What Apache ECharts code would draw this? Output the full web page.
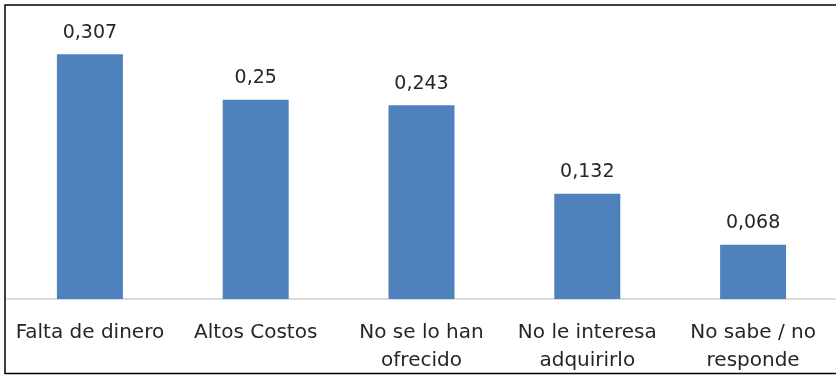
<!DOCTYPE html>
<html>
<head>
<meta charset="utf-8">
<script src="https://cdn.jsdelivr.net/npm/echarts@6/dist/echarts.min.js"></script>
<style>html,body{margin:0;padding:0;background:#fff}#c{width:836px;height:375px}</style>
</head>
<body>
<div id="c"></div>
<script>
const categories = ["Falta de dinero", "Altos Costos", "No se lo han\nofrecido", "No le interesa\nadquirirlo", "No sabe / no\nresponde"];
const values = [0.307, 0.25, 0.243, 0.132, 0.068];

const chart = echarts.init(document.getElementById('c'));
const font = "'DejaVu Sans', sans-serif";
chart.setOption({
  animation: false,
  grid: { left: 7, right: 0, top: 20, bottom: 76 },
  xAxis: {
    type: 'category',
    data: categories,
    axisLine: { lineStyle: { color: '#d0d0d0', width: 1.5 } },
    axisTick: { show: false },
    axisLabel: { color: '#262626', fontSize: 20, fontFamily: font, margin: 20, lineHeight: 28, interval: 0 }
  },
  yAxis: {
    type: 'value', min: 0, max: 0.35,
    show: false,
    splitLine: { show: false }
  },
  series: [{
    type: 'bar',
    data: values,
    barWidth: 66,
    itemStyle: { color: '#4f81bd' },
    label: {
      show: true, position: 'top', distance: 12,
      color: '#262626', fontSize: 19, fontFamily: font,
      formatter: p => String(p.value).replace('.', ',')
    }
  }],
  graphic: [{
    type: 'rect', shape: { x: 5, y: 5, width: 845, height: 368.5 },
    style: { fill: 'none', stroke: '#000', lineWidth: 1.5 }, z: 100
  }]
});
</script>
</body>
</html>
